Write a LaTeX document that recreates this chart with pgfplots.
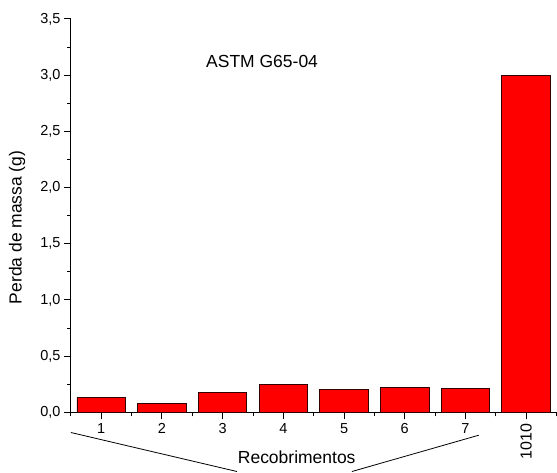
\documentclass[border=0pt]{standalone}
\usepackage{pgfplots}
\pgfplotsset{compat=1.18}
\usepackage{fontspec}
\setmainfont{Liberation Sans}
\begin{document}
\begin{tikzpicture}
\begin{axis}[
  width=486pt, height=393.7pt, scale only axis,
  xmin=0.5, xmax=8.5, ymin=0, ymax=3.5,
  axis x line*=bottom, axis y line*=left,
  axis line style={line width=1.1pt},
  clip=false,
  tick align=outside,
  major tick length=7pt, minor tick length=4pt,
  every tick/.style={black, line width=1pt},
  xtick={1,2,3,4,5,6,7,8},
  xticklabels={1,2,3,4,5,6,7,{\fontsize{16}{16}\selectfont\rotatebox{90}{1010}}},
  minor xtick={0.5,1.5,2.5,3.5,4.5,5.5,6.5,7.5,8.5},
  ytick={0,0.5,1,1.5,2,2.5,3,3.5},
  minor ytick={0.25,0.75,1.25,1.75,2.25,2.75,3.25},
  /pgf/number format/assume math mode=true,
  /pgf/number format/use comma,
  /pgf/number format/fixed,
  /pgf/number format/fixed zerofill,
  /pgf/number format/precision=1,
  yticklabel style={/pgf/number format/fixed, /pgf/number format/fixed zerofill, /pgf/number format/precision=1},
  tick label style={font=\fontsize{14.5}{16}\selectfont},
  xticklabel style={yshift=-1pt},
  ylabel={Perda de massa (g)},
  ylabel style={at={(axis description cs:-0.111,0.47)}, anchor=center, font=\fontsize{17.5}{20}\selectfont},
  xlabel={Recobrimentos},
  xlabel style={at={(axis cs:4.22,-0.403)}, anchor=center, font=\fontsize{17.5}{20}\selectfont},
]
\addplot[ybar, bar width=0.8, bar shift=0pt, fill={rgb,255:red,255;green,0;blue,0}, draw=black!80!red, line width=0.9pt]
  coordinates {(1,0.133) (2,0.075) (3,0.18) (4,0.25) (5,0.20) (6,0.22) (7,0.21) (8,3.0)};
\node[font=\fontsize{17.5}{20}\selectfont] at (axis cs:3.65,3.12) {ASTM G65-04};
\draw[line width=0.8pt] (axis cs:0.5,-0.18) -- (axis cs:3.235,-0.527);
\draw[line width=0.8pt] (axis cs:5.13,-0.527) -- (axis cs:7.22,-0.204);
\end{axis}
\path (current axis.south west) ++(-71pt,-60.3pt) rectangle ++(557pt,473pt);
\end{tikzpicture}
\end{document}
